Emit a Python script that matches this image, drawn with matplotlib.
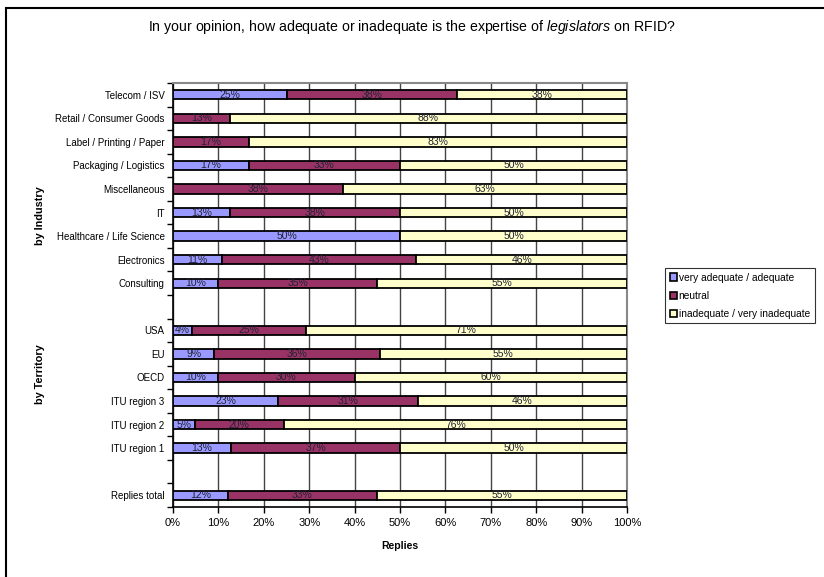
import matplotlib
matplotlib.use("Agg")
import matplotlib.pyplot as plt
from matplotlib.patches import Rectangle, Patch
import numpy as np

plt.rcParams["font.family"] = ["Liberation Sans", "DejaVu Sans"]
plt.rcParams["mathtext.fontset"] = "custom"
plt.rcParams["mathtext.rm"] = "Liberation Sans"
plt.rcParams["mathtext.it"] = "Liberation Sans:italic"

# rows top to bottom, "" = empty spacer row
categories = ["Telecom / ISV", "Retail / Consumer Goods", "Label / Printing / Paper",
              "Packaging / Logistics", "Miscellaneous", "IT", "Healthcare / Life Science",
              "Electronics", "Consulting", "",
              "USA", "EU", "OECD", "ITU region 3", "ITU region 2", "ITU region 1", "",
              "Replies total"]
adequate = [25, 0, 0, 16.7, 0, 12.5, 50, 10.7, 10, None,
            4.2, 9.1, 10, 23.1, 4.8, 12.8, None, 12.1]
neutral = [37.5, 12.5, 16.7, 33.3, 37.5, 37.5, 0, 42.9, 35, None,
           25, 36.4, 30, 30.8, 19.6, 37.2, None, 32.8]
inadequate = [37.5, 87.5, 83.3, 50, 62.5, 50, 50, 46.4, 55, None,
              70.8, 54.5, 60, 46.2, 75.6, 50, None, 55.1]
series_names = ["very adequate / adequate", "neutral", "inadequate / very inadequate"]
colors = ["#9999FF", "#993366", "#FFFFCC"]

fig = plt.figure(figsize=(8.24, 5.77), dpi=100)
ax = fig.add_axes([173 / 824, 1 - 507 / 577, 454 / 824, 424 / 577])

n = len(categories)
ypos = np.arange(n)
left = np.zeros(n)
for vals, col in zip([adequate, neutral, inadequate], colors):
    for i, v in enumerate(vals):
        if v is None or v == 0:
            continue
        ax.barh(ypos[i], v / 100, left=left[i], height=0.4, color=col,
                edgecolor="black", linewidth=1.3, zorder=3)
        ax.text(left[i] + v / 200, ypos[i], f"{int(v + 0.5)}%", ha="center",
                va="center", fontsize=7.5, color="#222233", zorder=4)
        left[i] += v / 100

ax.set_xlim(0, 1)
ax.set_ylim(n - 0.5, -0.5)
ax.set_xticks(np.linspace(0, 1, 11))
ax.set_xticklabels([f"{k}%" for k in range(0, 101, 10)], fontsize=8)
ax.set_yticks(ypos)
ax.set_yticklabels(categories, fontsize=7)
ax.set_yticks(np.arange(n + 1) - 0.5, minor=True)
ax.tick_params(axis="y", which="major", length=0, pad=6)
ax.tick_params(axis="y", which="minor", length=4, width=1, direction="out")
ax.tick_params(axis="x", length=4, width=1, direction="out", pad=4)
ax.grid(axis="x", color="#444444", linewidth=1, zorder=0)
for s in ["top", "right"]:
    ax.spines[s].set_color("#888888")
    ax.spines[s].set_linewidth(1.5)
for s in ["left", "bottom"]:
    ax.spines[s].set_color("black")
    ax.spines[s].set_linewidth(1.2)
ax.set_xlabel("Replies", fontsize=7.5, fontweight="bold", labelpad=9)

fig.text(0.5, 1 - 27 / 577,
         r"In your opinion, how adequate or inadequate is the expertise of $\it{legislators}$ on RFID?",
         ha="center", va="center", fontsize=10.2)
fig.text(40 / 824, 1 - 216 / 577, "by Industry", rotation=90, ha="center", va="center",
         fontsize=7.8, fontweight="bold")
fig.text(40 / 824, 1 - 374 / 577, "by Territory", rotation=90, ha="center", va="center",
         fontsize=7.8, fontweight="bold")

handles = [Patch(facecolor=c, edgecolor="black", linewidth=1.2) for c in colors]
leg = fig.legend(handles, series_names, loc="upper left",
                 bbox_to_anchor=(665 / 824, 1 - 268 / 577), fontsize=7.3,
                 frameon=True, fancybox=False, handlelength=0.7, handleheight=0.7,
                 handletextpad=0.2, borderpad=0.45, labelspacing=0.8, borderaxespad=0)
leg.get_frame().set_edgecolor("black")
leg.get_frame().set_linewidth(0.8)

fig.patches.append(Rectangle((6 / 824, -0.1), 1.2, 1.1 - 8 / 577, transform=fig.transFigure,
                             fill=False, edgecolor="black", linewidth=1.5))

fig.savefig("out.png", dpi=100)
